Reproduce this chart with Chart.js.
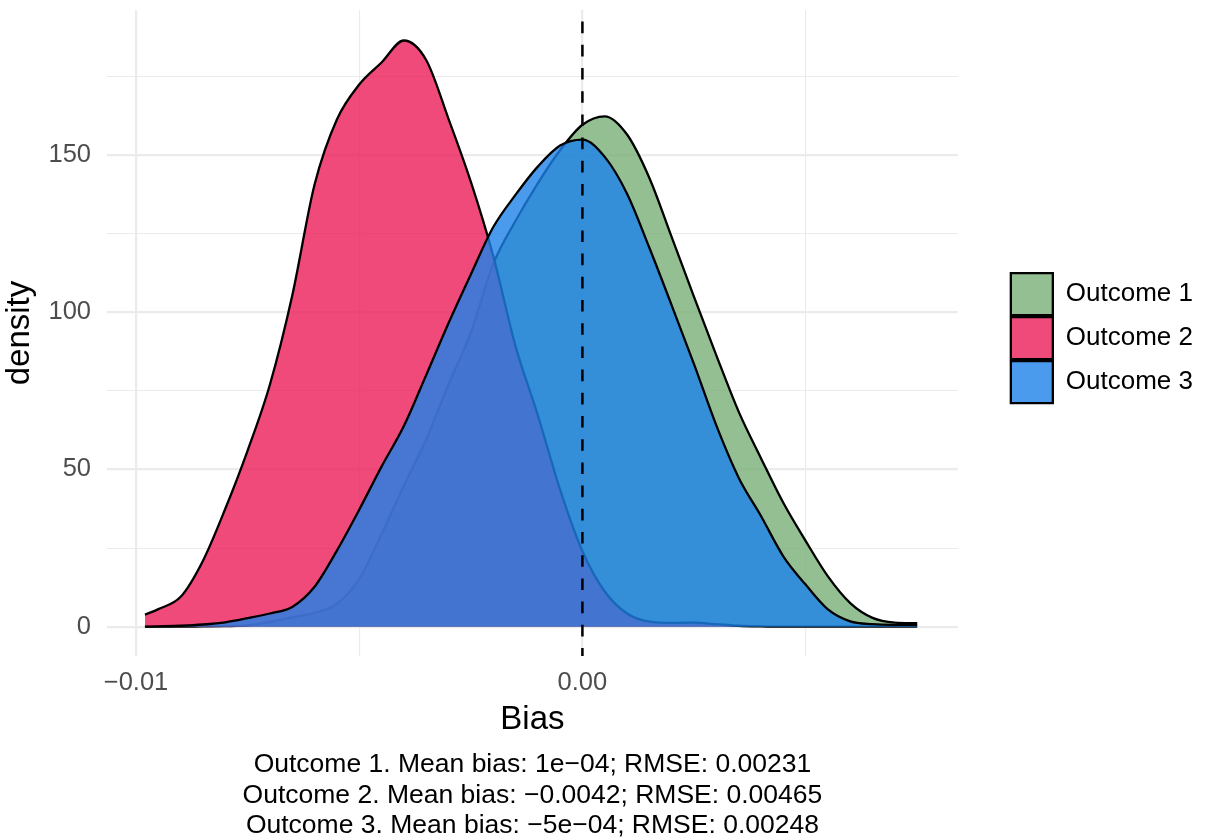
<!DOCTYPE html>
<html>
<head>
<meta charset="utf-8">
<title>Bias density</title>
<script src="https://cdn.jsdelivr.net/npm/chart.js@4/dist/chart.umd.min.js"></script>
<style>
  html, body { margin: 0; padding: 0; background: #ffffff; }
  #chart { display: block; }
</style>
</head>
<body>
<canvas id="chart" width="1209" height="840"></canvas>
<script>
// ------------------------------------------------------------------
// Data
// ------------------------------------------------------------------

// Bias values at which the three density curves were read
const biasGrid = [
  -0.0098, -0.0095, -0.0090, -0.0085, -0.0080, -0.0075, -0.0070, -0.0065,
  -0.0060, -0.0055, -0.0050, -0.0045, -0.0040, -0.0035, -0.0030, -0.0025,
  -0.0020, -0.0015, -0.0010, -0.0005, 0.0000, 0.0005, 0.0010, 0.0015,
  0.0020, 0.0025, 0.0030, 0.0035, 0.0040, 0.0045, 0.0050, 0.0055,
  0.0060, 0.0065, 0.0070, 0.0075,
];

const outcome1Density = [
  0, 0, 0, 0.1, 0.2, 0.4, 1.5, 3,
  4.4, 7.3, 15.2, 29.4, 44.8, 59.5, 77, 93.5,
  115.3, 129, 141, 151.5, 159.6, 162.3, 156.5, 142.7,
  123.9, 104.9, 86.3, 68.4, 53.6, 39.4, 27.3, 16,
  7.5, 2.8, 1.3, 1.1,
];

const outcome2Density = [
  3.8, 5.6, 9.5, 21, 37.5, 56, 77, 105.3,
  140.6, 161.3, 172.4, 179.4, 186.4, 180.2, 161.5, 141.5,
  118, 89.3, 67.3, 43.6, 24, 11.2, 4.2, 1.6,
  1.2, 1.3, 0.8, 0.3, 0.1, 0, 0, 0,
  0, 0, 0, 0,
];

const outcome3Density = [
  0, 0.1, 0.3, 0.7, 1.4, 2.7, 4.2, 6.3,
  12.7, 24.2, 37.2, 50.9, 63.8, 80, 96.5, 112,
  127, 137.3, 146.3, 153, 154.9, 149.4, 137.7, 120.5,
  102.2, 83.5, 64, 47.4, 35.2, 22.4, 13.4, 5.5,
  1.7, 0.8, 0.6, 0.6,
];

const seriesNames = ['Outcome 1', 'Outcome 2', 'Outcome 3'];

const xTickValues = [-0.01, -0.005, 0, 0.005];
const xTickLabels = ['\u22120.01', '', '0.00', ''];
const yTickValues = [0, 25, 50, 75, 100, 125, 150, 175];
const yTickLabels = ['0', '', '50', '', '100', '', '150', ''];

const captionLines = [
  'Outcome 1. Mean bias: 1e\u221204; RMSE: 0.00231',
  'Outcome 2. Mean bias: \u22120.0042; RMSE: 0.00465',
  'Outcome 3. Mean bias: \u22125e\u221204; RMSE: 0.00248',
];

const referenceBias = 0;

// ------------------------------------------------------------------
// Styling
// ------------------------------------------------------------------

const FONT = '"Liberation Sans", Arial, Helvetica, sans-serif';
const FILLS = ['rgba(120, 175, 120, 0.8)', 'rgba(235, 29, 89, 0.8)', 'rgba(29, 130, 234, 0.8)'];
const GRID = '#ebebeb';

/** Pair the bias grid with one series of density values. */
function toPoints(values) {
  return biasGrid.map((b, i) => ({ x: b, y: values[i] }));
}

/** Major ticks carry a label, minor ones do not. */
function gridWidth(labels) {
  return (ctx) => (labels[ctx.index] ? 2.2 : 1.1);
}

// Dashed vertical reference line at zero bias, drawn over the densities
const referenceLine = {
  id: 'referenceLine',
  afterDatasetsDraw(chart) {
    const { ctx, chartArea, scales } = chart;
    const x = scales.x.getPixelForValue(referenceBias);
    ctx.save();
    ctx.strokeStyle = '#000000';
    ctx.lineWidth = 2.5;
    ctx.setLineDash([11.6, 11.6]);
    ctx.lineDashOffset = 11.6;
    ctx.beginPath();
    ctx.moveTo(x, chartArea.top);
    ctx.lineTo(x, chartArea.bottom);
    ctx.stroke();
    ctx.restore();
  },
};

const datasets = [outcome1Density, outcome2Density, outcome3Density].map((values, i) => ({
  label: seriesNames[i],
  data: toPoints(values),
  backgroundColor: FILLS[i],
  borderColor: '#000000',
  borderWidth: 2.3,
  fill: 'origin',
  pointRadius: 0,
  cubicInterpolationMode: 'monotone',
  order: 3 - i,   // Outcome 3 ends up on top
  yAxisID: 'y',
}));

new Chart(document.getElementById('chart'), {
  type: 'line',
  data: { datasets },
  plugins: [referenceLine],
  options: {
    responsive: false,
    animation: false,
    devicePixelRatio: 1,
    layout: { padding: { top: 10, right: 6, bottom: 0, left: 0 } },
    plugins: {
      tooltip: { enabled: false },
      legend: {
        position: 'right',
        fullSize: false,
        title: { display: true, text: '', padding: 0, font: { size: 10, lineHeight: 1 } },
        labels: {
          boxWidth: 42,
          boxHeight: 42,
          padding: 2,
          color: '#000000',
          font: { family: FONT, size: 26 },
          sort: (a, b) => a.datasetIndex - b.datasetIndex,
        },
      },
      subtitle: {
        display: true,
        position: 'bottom',
        fullSize: false,
        text: captionLines,
        color: '#000000',
        padding: { top: 0, bottom: -1 },
        font: { family: FONT, size: 26.5, weight: 'normal', lineHeight: 1.15 },
      },
    },
    scales: {
      x: {
        type: 'linear',
        min: -0.01065,
        max: 0.00841,
        afterBuildTicks: (s) => { s.ticks = xTickValues.map((v) => ({ value: v })); },
        afterFit: (s) => { s.height = 93.5; s.paddingLeft = 0; s.paddingRight = 0; },
        ticks: {
          autoSkip: false,
          maxRotation: 0,
          padding: 12,
          color: '#4d4d4d',
          font: { family: FONT, size: 25.5 },
          callback: (value, index) => xTickLabels[index],
        },
        grid: { color: GRID, lineWidth: gridWidth(xTickLabels), drawTicks: false },
        border: { display: false },
        title: {
          display: true,
          text: 'Bias',
          color: '#000000',
          padding: { top: 0, bottom: 10 },
          font: { family: FONT, size: 33 },
        },
      },
      y: {
        type: 'linear',
        min: -9.34,
        max: 196.1,
        afterBuildTicks: (s) => { s.ticks = yTickValues.map((v) => ({ value: v })); },
        afterFit: (s) => { s.width = 107; s.paddingTop = 0; s.paddingBottom = 0; },
        ticks: {
          autoSkip: false,
          padding: 16,
          color: '#4d4d4d',
          font: { family: FONT, size: 25.5 },
          callback: (value, index) => yTickLabels[index],
        },
        grid: { color: GRID, lineWidth: gridWidth(yTickLabels), drawTicks: false },
        border: { display: false },
        title: {
          display: true,
          text: 'density',
          color: '#000000',
          padding: { top: 0, bottom: 0 },
          font: { family: FONT, size: 33 },
        },
      },
      // empty axis that keeps the gap between the panel and the legend
      ySpacer: {
        type: 'linear',
        position: 'right',
        display: true,
        grid: { display: false },
        border: { display: false },
        ticks: { display: false },
        afterFit: (s) => { s.width = 51; },
      },
    },
  },
});
</script>
</body>
</html>
